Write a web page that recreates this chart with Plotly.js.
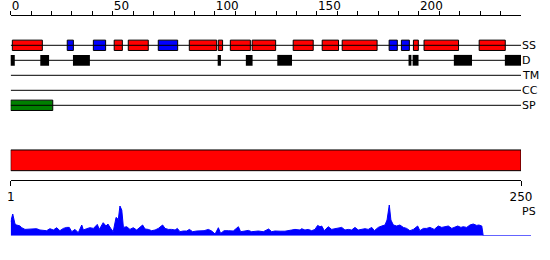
<!DOCTYPE html>
<html><head><meta charset="utf-8">
<script src="https://cdn.plot.ly/plotly-3.0.1.min.js"></script>
<style>html,body{margin:0;padding:0;background:#fff}</style>
</head><body><div id="chart" style="width:550px;height:260px"></div>
<script>
// ---- data ----
const trackNames = ['SS', 'D', 'TM', 'CC', 'SP'];
const seqLength = 250;

const helixStart = [0.8, 50.7, 57.6, 87.5, 101.7, 107.6, 118.3, 138.4, 152.6, 162.4, 197.3, 202.5, 229.5];
const helixEnd   = [15.5, 54.7, 67.4, 100.9, 103.8, 117.4, 129.8, 148.2, 160.6, 179.5, 199.7, 219.4, 242.3];

const strandStart = [27.7, 40.5, 72.3, 185.4, 191.4];
const strandEnd   = [30.7, 46.5, 81.8, 189.4, 195.3];

const disorderStart = [-0.3, 14.5, 30.5, 101.4, 115.2, 130.6, 194.9, 196.9, 217.1, 242.1];
const disorderEnd   = [2.0, 18.8, 38.8, 103.0, 118.5, 137.8, 196.3, 199.8, 226.0, 250.0];

const signalStart = [0];
const signalEnd   = [20.6];

const domainStart = [1];
const domainEnd   = [250];

const topTickVals = [0,10,20,30,40,50,60,70,80,90,100,110,120,130,140,150,160,170,180,190,200,210,220,230,240];
const topTickText = ['0','','','','','50','','','','','100','','','','','150','','','','','200','','','',''];
const bottomTickVals = [1, 250];
const bottomTickText = ['1', '250'];
const profileLabel = 'PS';

const profilePos = [0, 1, 2.1, 2.9, 4.6, 5.4, 7, 11, 12.7, 14.3, 16, 17.6, 19.2, 20.9, 22.5, 24.1, 25.8, 27.4, 28.7, 29.9,
  31.5, 33.1, 34.8, 35.6, 37.2, 38.8, 40.5, 42.4, 43.4, 45.3, 46.7, 47.6, 49, 50.2, 51.6, 52.7, 53.5, 54.4, 55.2, 56.8,
  58.4, 60, 61.7, 62.5, 64.6, 65.8, 67.4, 69, 70.7, 72.3, 74.4, 75.6, 77.2, 78.8, 80.5, 81.6, 82.9, 84.5, 86.2, 87.5,
  89.1, 91.1, 92.7, 94.7, 96.8, 98.4, 100.1, 101.7, 102.8, 104.5, 106.6, 109, 111.5, 112.6, 114.7, 116.4, 118, 119.6, 121.3, 123.7,
  126.3, 127.8, 129.4, 131.9, 134.3, 137.6, 139.2, 141.7, 142.5, 144.1, 145.7, 147.4, 149, 150.3, 151.5, 152.3, 153.6, 155.5, 157.2, 158.8,
  160.4, 162.1, 163.7, 165.3, 167, 168.6, 170.2, 171.9, 173.5, 175.1, 176.8, 178.1, 180, 181.7, 183.3, 184.3, 185.4, 186.2, 187.4, 189,
  190.6, 192.3, 193.9, 195.5, 197.2, 199.3, 200.4, 202.1, 203.7, 205.3, 207.4, 209.4, 211.1, 212.7, 214.3, 216, 217.6, 218.9, 220.5, 221.6,
  223.3, 224.9, 226.5, 228.2, 229.3, 230.7, 231.4, 254.8];
const profileScore = [14, 21.7, 11.7, 10.7, 9.7, 8, 6.3, 6.3, 7, 5.7, 5.7, 5, 7, 5.7, 8, 5, 7.3, 8.3, 8.3, 4,
  6.3, 3, 10.7, 5.7, 7, 8, 7.3, 11.3, 6.3, 13, 9.7, 11.7, 7.3, 4, 18.3, 16.3, 29.7, 25.7, 8.3, 9,
  6.3, 8, 5.7, 7.3, 10.7, 6.7, 6.3, 5, 5.7, 7.3, 10.7, 7.3, 6.3, 6.3, 5.7, 7.3, 4, 4.7, 4.7, 6.3,
  4, 4.7, 5, 5, 6.3, 4.7, 1.7, 8, 2.3, 5, 5, 4.7, 9, 4, 4.7, 5.3, 4, 4.7, 4.7, 4,
  6.7, 4, 4.7, 4.5, 4.5, 5.7, 6.3, 5.7, 7, 5.7, 6.3, 5, 6.3, 10.3, 9, 9.7, 5, 9, 6.3, 7,
  7.3, 8.3, 5.7, 6.3, 5.7, 8.3, 5.7, 6.3, 7, 6.3, 8.3, 5, 8.3, 9.7, 10.7, 15.7, 30.7, 15.7, 10.7, 9.7,
  10.7, 8.3, 7.3, 5, 6.3, 9.7, 5, 7.3, 7.3, 8.3, 6.3, 9.7, 8.3, 9, 9.7, 7.3, 8.3, 9.7, 8.3, 9,
  8.3, 10.7, 11.7, 10.3, 10.7, 9.7, 0, 0];

// ---- drawing ----
const FONT = 'DejaVu Sans';
const W = 550, H = 260;
const px = (p) => p / W;           // horizontal pixel -> paper
const py = (p) => 1 - p / H;       // vertical pixel -> paper
const rowPx0 = 45.3, rowStep = 15; // row index 0 at 45.3px, 15px per row
const yTop = -rowPx0 / rowStep, yBot = (H - rowPx0) / rowStep;
const BOX = 0.69;

function boxes(starts, ends, row, color, xa, lw) {
  return {
    type: 'bar', orientation: 'h', xaxis: xa || 'x', yaxis: 'y',
    base: starts, x: starts.map((s, i) => ends[i] - s), y: starts.map(() => row),
    width: starts.map(() => BOX),
    marker: {color: color, line: {color: '#000', width: lw === undefined ? 1 : lw}},
    hoverinfo: 'skip', showlegend: false
  };
}

const traces = [];
trackNames.forEach((n, i) => {
  traces.push({type: 'scatter', mode: 'lines', x: [0, seqLength], y: [i, i], xaxis: 'x', yaxis: 'y',
    line: {color: '#000', width: 1}, hoverinfo: 'skip', showlegend: false});
});
traces.push(boxes(helixStart, helixEnd, trackNames.indexOf('SS'), '#ff0000'));
traces.push(boxes(strandStart, strandEnd, trackNames.indexOf('SS'), '#0000ff'));
const dis = boxes(disorderStart, disorderEnd, trackNames.indexOf('D'), '#000000', 'x', 0);
dis.width = disorderStart.map(() => 0.72);
traces.push(dis);
traces.push(boxes(signalStart, signalEnd, trackNames.indexOf('SP'), '#008000'));
const dom = boxes(domainStart, domainEnd, 7.667, '#ff0000', 'x2');
dom.width = [1.38];
traces.push(dom);
traces.push({type: 'scatter', mode: 'lines', x: profilePos, y: profileScore, xaxis: 'x3', yaxis: 'y3',
  fill: 'tozeroy', fillcolor: '#0000ff', line: {color: '#0000ff', width: 1}, hoverinfo: 'skip', showlegend: false});

const annotations = trackNames.map((n, i) => ({
  text: n, xref: 'x', yref: 'y', x: seqLength, y: i, xanchor: 'left', yanchor: 'middle',
  showarrow: false, xshift: -1, font: {family: FONT, size: 11, color: '#000'}
}));
annotations.push({text: profileLabel, xref: 'x2', yref: 'paper', x: seqLength, y: py(211), xanchor: 'left', yanchor: 'middle',
  showarrow: false, xshift: -1, font: {family: FONT, size: 11, color: '#000'}});

const xDom = [px(10.7), px(521)];
const layout = {
  width: W, height: H, margin: {l: 0, r: 0, t: 0, b: 0},
  paper_bgcolor: '#fff', plot_bgcolor: 'rgba(0,0,0,0)',
  barmode: 'overlay', showlegend: false,
  font: {family: FONT, size: 12, color: '#000'},
  xaxis: {domain: xDom, range: [0, seqLength], anchor: 'free', position: py(14.7), side: 'top',
    showline: true, linecolor: '#000', linewidth: 1, showgrid: false, zeroline: false,
    tickmode: 'array', tickvals: topTickVals, ticktext: topTickText, ticks: 'outside', ticklen: 4,
    tickcolor: '#000', tickwidth: 1, ticklabelposition: 'outside right',
    tickfont: {family: FONT, size: 12, color: '#000'}, fixedrange: true},
  xaxis2: {domain: xDom, range: [1, seqLength], anchor: 'free', position: py(180.3), side: 'bottom',
    showline: true, linecolor: '#000', linewidth: 1, showgrid: false, zeroline: false,
    tickmode: 'array', tickvals: bottomTickVals, ticktext: bottomTickText, ticks: 'outside', ticklen: 5,
    tickcolor: '#000', tickwidth: 1, tickfont: {family: FONT, size: 12, color: '#000'}, fixedrange: true},
  xaxis3: {domain: [px(10.7), px(531)], range: [0, 254.8], anchor: 'y3', visible: false, fixedrange: true},
  yaxis: {domain: [0, 1], range: [yBot, yTop], visible: false, fixedrange: true},
  yaxis3: {domain: [py(235.7), py(200)], range: [0, 35.7], anchor: 'x3', visible: false, fixedrange: true},
  annotations: annotations
};
Plotly.newPlot('chart', traces, layout, {staticPlot: true, displayModeBar: false});
</script></body></html>
